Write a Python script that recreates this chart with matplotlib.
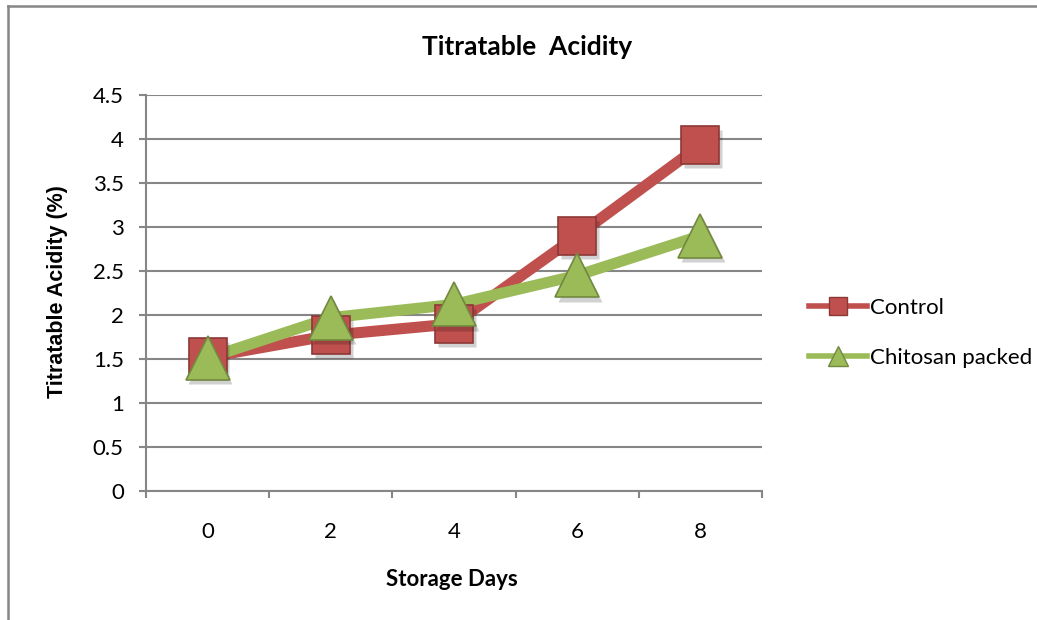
import matplotlib
matplotlib.use("Agg")
import matplotlib.pyplot as plt
import matplotlib.transforms as mtransforms
from matplotlib.lines import Line2D

# data
days = ["0", "2", "4", "6", "8"]
control = [1.52, 1.77, 1.90, 2.90, 3.93]
chitosan = [1.51, 1.97, 2.12, 2.45, 2.90]

red = "#C0504D"
red_edge = "#8C3836"
green = "#9BBB59"
green_edge = "#71893F"
grid_col = "#868686"

plt.rcParams["font.family"] = ["Lato", "DejaVu Sans"]

fig = plt.figure(figsize=(10.37, 6.2), dpi=100)
ax = fig.add_axes([146 / 1037, 1 - 491 / 620, 616 / 1037, 396 / 620])

# outer chart border (left and top visible)
fig.add_artist(Line2D([8 / 1037, 8 / 1037], [0, 1 - 6 / 620], transform=fig.transFigure,
                      color=grid_col, lw=1.8))
fig.add_artist(Line2D([8 / 1037, 1], [1 - 6 / 620, 1 - 6 / 620], transform=fig.transFigure,
                      color=grid_col, lw=1.8))

x = [i + 0.5 for i in range(len(days))]
shift = ax.transData + mtransforms.ScaledTranslation(2 / 72, -3 / 72, fig.dpi_scale_trans)

ax.plot(x, control, color=red, lw=8, solid_capstyle="butt", zorder=3)
ax.plot(x, chitosan, color=green, lw=8, solid_capstyle="butt", zorder=4)
# soft drop shadows under the markers
ax.plot(x, control, ls="none", marker="s", ms=27, mfc="black", mec="none", alpha=0.18,
        transform=shift, zorder=4.5)
ax.plot(x, control, ls="none", marker="s", ms=27, mfc=red, mec=red_edge, mew=1.2, zorder=5)
ax.plot(x, chitosan, ls="none", marker="^", ms=31, mfc="black", mec="none", alpha=0.18,
        transform=shift, zorder=5.5)
ax.plot(x, chitosan, ls="none", marker="^", ms=31, mfc=green, mec=green_edge, mew=1.2, zorder=6)

ax.set_xlim(0, 5)
ax.set_ylim(0, 4.5)
ax.set_yticks([0, 0.5, 1, 1.5, 2, 2.5, 3, 3.5, 4, 4.5])
ax.set_yticklabels(["0", "0.5", "1", "1.5", "2", "2.5", "3", "3.5", "4", "4.5"])
ax.set_xticks(x)
ax.set_xticklabels(days)
ax.set_xticks(range(6), minor=True)
ax.tick_params(axis="x", which="major", length=0, pad=22, labelsize=16)
ax.tick_params(axis="x", which="minor", length=5, width=1.5, color=grid_col)
ax.tick_params(axis="y", length=5, width=1.5, color=grid_col, labelsize=16, pad=11)
ax.grid(axis="y", color=grid_col, lw=1.5)
ax.set_axisbelow(True)
for s in ["top", "right"]:
    ax.spines[s].set_visible(False)
for s in ["left", "bottom"]:
    ax.spines[s].set_color(grid_col)
    ax.spines[s].set_linewidth(1.5)

fig.text(527 / 1037, 1 - 47 / 620, "Titratable  Acidity", ha="center", va="center",
         fontsize=19, fontweight="bold")
fig.text(452 / 1037, 1 - 579 / 620, "Storage Days", ha="center", va="center",
         fontsize=16, fontweight="bold")
fig.text(58 / 1037, 1 - 292 / 620, "Titratable Acidity (%)", ha="center", va="center",
         rotation=90, fontsize=15.5, fontweight="bold", family="Liberation Sans")

handles = [
    Line2D([], [], color=red, lw=4, marker="s", ms=13, mfc=red, mec=red_edge),
    Line2D([], [], color=green, lw=4, marker="^", ms=15, mfc=green, mec=green_edge),
]
fig.legend(handles, ["Control", "Chitosan packed"], loc="center left",
           bbox_to_anchor=(800 / 1037, 1 - 333 / 620), frameon=False, fontsize=16,
           handlelength=2.6, handletextpad=0.15, labelspacing=1.35, borderaxespad=0)

fig.savefig("out.png", dpi=100)
